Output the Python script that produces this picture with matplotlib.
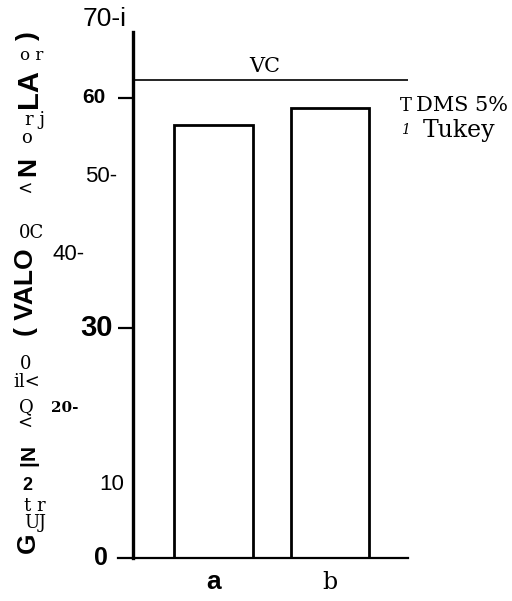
import matplotlib
matplotlib.use("Agg")
import matplotlib.pyplot as plt
import matplotlib.transforms as mtransforms

# Treatment means and reference value
groups = ["a", "b"]
means = [56.5, 58.7]
vc_value = 62.4

# Y tick labels as printed
ytick_vals = [70, 60, 50, 40, 30, 20, 10, 0]
ytick_text = ["70-i", "60", "50-", "40-", "30", "20-", "10", "0"]

SANS = "Liberation Sans"
SERIF = "DejaVu Serif"

fig = plt.figure(figsize=(5.12, 6.01), dpi=100)
W, H = 512, 601
ax = fig.add_axes([133 / W, (H - 558) / H, (408 - 133) / W, (558 - 32) / H])

pos = [0, 1]
ax.bar(pos, means, width=0.67, color="white", edgecolor="black", linewidth=2.0)
ax.set_xlim(-0.691, 1.670)
ax.set_ylim(0, 68.6)

# reference line with its label
ax.axhline(vc_value, color="black", linewidth=1.2)
ax.text(0.48, vc_value + 0.4, "VC", ha="center", va="bottom", fontsize=15,
        family=SERIF, transform=ax.get_yaxis_transform())

for s in ["top", "right"]:
    ax.spines[s].set_visible(False)
ax.spines["left"].set_linewidth(2.4)
ax.spines["bottom"].set_linewidth(1.6)
ax.set_xticks([])
ax.set_yticks([30, 60])
ax.set_yticklabels([])
ax.tick_params(axis="y", length=11, width=1.6, direction="out")

# baseline stub to the left of the axis
ax.plot([-0.82, -0.691], [0, 0], color="black", lw=1.6, clip_on=False)

# y tick labels
ytr = mtransforms.blended_transform_factory(fig.transFigure, ax.transData)
tick_style = {
    70: (105, 19, "normal", SANS, 0.3),
    60: (94, 15, "bold", SANS, 0),
    50: (101, 16, "normal", SANS, -0.2),
    40: (69, 16, "normal", SANS, -0.4),
    30: (97, 21, "bold", SANS, 0),
    20: (65, 11, "bold", SERIF, -0.5),
    10: (112, 16, "normal", SANS, -0.4),
    0: (101, 18, "bold", SANS, 0),
}
for v, t in zip(ytick_vals, ytick_text):
    x, fs, fw, fam, dy = tick_style[v]
    ax.text(x / W, v + dy, t, transform=ytr, ha="center", va="center",
            fontsize=fs, fontweight=fw, family=fam)

# category labels
ax.text(0, -0.045, groups[0], transform=ax.get_xaxis_transform(), ha="center",
        va="center", fontsize=19, fontweight="bold", family=SANS)
ax.text(1, -0.047, groups[1], transform=ax.get_xaxis_transform(), ha="center",
        va="center", fontsize=17, family=SERIF)

# significance key
fig.text(406 / W, 1 - 106 / H, "T", fontsize=13, family=SERIF, ha="center", va="center")
fig.text(416 / W, 1 - 105 / H, "DMS 5%", fontsize=15, family=SERIF, ha="left", va="center")
fig.text(405 / W, 1 - 130 / H, "1", fontsize=10, family=SERIF, style="italic", ha="center", va="center")
fig.text(423 / W, 1 - 131 / H, "Tukey", fontsize=17, family=SERIF, ha="left", va="center")

# y axis title, broken into fragments
def frag(x, y, s, fs, bold=True, rot=90, fam=SANS):
    fig.text(x / W, 1 - y / H, s, fontsize=fs, fontweight="bold" if bold else "normal",
             family=fam, rotation=rot, ha="center", va="center")

frag(28, 36, ")", 19)
frag(29, 89, "LA", 21)
frag(28, 167, "N", 19)
frag(26, 292, "( VALO", 19)
frag(29, 452, "N", 15)
frag(29, 463, "|", 15, rot=90)
frag(27, 486, "2", 13, rot=0)
frag(28, 543, "G", 19)

frag(32, 56, "o r", 12, bold=False, rot=0, fam=SERIF)
frag(35, 120, "r j", 13, bold=False, rot=0, fam=SERIF)
frag(26, 138, "o", 13, bold=False, rot=0, fam=SERIF)
frag(25, 190, "<", 13, bold=False, rot=0, fam=SERIF)
frag(31, 233, "0C", 13, bold=False, rot=0, fam=SERIF)
frag(26, 364, "0", 13, bold=False, rot=0, fam=SERIF)
frag(27, 382, "il<", 13, bold=False, rot=0, fam=SERIF)
frag(26, 407, "Q", 13, bold=False, rot=0, fam=SERIF)
frag(25, 424, "<", 13, bold=False, rot=0, fam=SERIF)
frag(35, 506, "t r", 13, bold=False, rot=0, fam=SERIF)
frag(35, 523, "UJ", 13, bold=False, rot=0, fam=SERIF)

fig.savefig("out.png", dpi=100, facecolor="white")
